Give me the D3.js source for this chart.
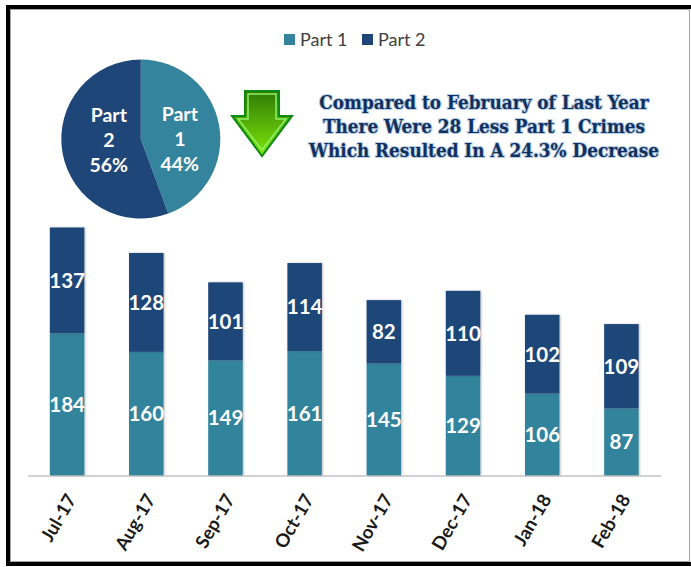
<!DOCTYPE html>
<html>
<head>
<meta charset="utf-8">
<script src="https://d3js.org/d3.v7.min.js"></script>
<style>
  html, body { margin: 0; padding: 0; background: #fff; }
  svg { display: block; font-family: Lato, "Noto Sans", sans-serif; }
</style>
</head>
<body>
<div id="chart"></div>
<script>
// values
const months = ["Jul-17", "Aug-17", "Sep-17", "Oct-17", "Nov-17", "Dec-17", "Jan-18", "Feb-18"];
const part1 = [184, 160, 149, 161, 145, 129, 106, 87];
const part2 = [137, 128, 101, 114, 82, 110, 102, 109];
const seriesNames = ["Part 1", "Part 2"];
const seriesColors = ["#33849c", "#1f4678"];
const headline = [
    "Compared to February of Last Year",
    "There Were 28 Less Part 1 Crimes",
    "Which Resulted In A 24.3% Decrease"
];

const width = 691;
const height = 567;

const svg = d3.select("#chart")
    .append("svg")
        .attr("width", width)
        .attr("height", height);

const defs = svg.append("defs");

// soft shadow under the bars
const shadow = defs.append("filter").attr("id", "barShadow")
    .attr("x", "-20%").attr("width", "140%");
shadow.append("feDropShadow")
    .attr("dx", 1).attr("dy", 0).attr("stdDeviation", 1)
    .attr("flood-color", "#000").attr("flood-opacity", 0.25);

// arrow fill
const arrowFill = defs.append("linearGradient").attr("id", "arrowFill")
    .attr("x1", 0).attr("y1", 0).attr("x2", 0).attr("y2", 1);
arrowFill.append("stop").attr("offset", "0%").attr("stop-color", "#2f7a06");
arrowFill.append("stop").attr("offset", "100%").attr("stop-color", "#7fe80a");

// frame round the picture
svg.append("rect")
    .attr("x", 8).attr("y", 7)
    .attr("width", 700).attr("height", 557)
    .attr("fill", "none")
    .attr("stroke", "#000")
    .attr("stroke-width", 4);
svg.append("rect")
    .attr("x", 10.5).attr("y", 9.5)
    .attr("width", 679).attr("height", 552)
    .attr("fill", "#fff")
    .attr("stroke", "#a6a6a6")
    .attr("stroke-width", 1);

// legend
const legendX = [284, 362];
const legend = svg.append("g").selectAll("g")
    .data(seriesNames)
    .enter()
    .append("g")
        .attr("transform", (d, i) => `translate(${legendX[i]}, 34)`);
legend.append("rect")
    .attr("width", 11).attr("height", 11)
    .attr("fill", (d, i) => seriesColors[i]);
legend.append("text")
    .attr("x", 16).attr("y", 11.5)
    .attr("font-size", 18)
    .attr("fill", "#404040")
    .text(d => d);

// pie of the latest month
const lastIndex = months.length - 1;
const pieValues = [part1[lastIndex], part2[lastIndex]];
const pieTotal = d3.sum(pieValues);
const radius = 79.5;
const pie = d3.pie().sort(null);
const arc = d3.arc().innerRadius(0).outerRadius(radius);
const pieGroup = svg.append("g").attr("transform", "translate(140.8, 139)");
const slices = pieGroup.selectAll("path")
    .data(pie(pieValues))
    .enter();
slices.append("path")
    .attr("d", arc)
    .attr("fill", (d, i) => seriesColors[i]);

const pieLabelPos = [[39, -18], [-32, -17]];
const pieLabels = pieGroup.selectAll("text.slice")
    .data(pie(pieValues))
    .enter()
    .append("text")
        .attr("class", "slice")
        .attr("text-anchor", "middle")
        .attr("fill", "#fff")
        .attr("font-size", 19.5)
        .attr("font-weight", 700)
        .attr("transform", (d, i) => `translate(${pieLabelPos[i][0]}, ${pieLabelPos[i][1]})`);
pieLabels.each(function(d, i) {
    const words = seriesNames[i].split(" ");
    const rows = [words[0], words[1], Math.round(d.value / pieTotal * 100) + "%"];
    d3.select(this).selectAll("tspan")
        .data(rows)
        .enter()
        .append("tspan")
            .attr("x", 0)
            .attr("dy", (r, j) => j === 0 ? 0 : 25)
            .text(r => r);
});

// down arrow
svg.append("path")
    .attr("transform", "translate(262, 123)")
    .attr("d", "M-17,-32 H17 V-7 H30 L0,33 L-30,-7 H-17 Z")
    .attr("fill", "url(#arrowFill)")
    .attr("stroke", "#0d8a12")
    .attr("stroke-width", 2)
    .attr("stroke-linejoin", "miter");
svg.append("path")
    .attr("transform", "translate(262, 123)")
    .attr("d", "M-14,-29 H14 V-4 H24 L0,27 L-24,-4 H-14 Z")
    .attr("fill", "none")
    .attr("stroke", "#8ff06a")
    .attr("stroke-width", 1.5);

// headline
svg.append("g").selectAll("text")
    .data(headline)
    .enter()
    .append("text")
        .attr("x", 484)
        .attr("y", (d, i) => 108.5 + i * 24.2)
        .attr("text-anchor", "middle")
        .attr("font-family", "'DejaVu Serif', serif")
        .attr("font-size", 18.8)
        .attr("font-weight", 700)
        .style("font-stretch", "condensed")
        .attr("fill", "#12305c")
        .attr("stroke", "#b7cfe8")
        .attr("stroke-width", 2)
        .attr("paint-order", "stroke")
        .text(d => d);

// stacked bars
const x = d3.scaleBand()
    .domain(months)
    .range([27.5, 661])
    .paddingInner(0.564)
    .paddingOuter(0.282);
const y = d3.scaleLinear()
    .domain([0, 321])
    .range([475.5, 227.5]);

const stackData = months.map((m, i) => ({ month: m, "Part 1": part1[i], "Part 2": part2[i] }));
const stacked = d3.stack().keys(seriesNames)(stackData);

const layers = svg.append("g").selectAll("g")
    .data(stacked)
    .enter()
    .append("g")
        .attr("fill", (d, i) => seriesColors[i]);

layers.selectAll("rect")
    .data(d => d)
    .enter()
    .append("rect")
        .attr("x", d => x(d.data.month))
        .attr("y", d => y(d[1]))
        .attr("width", x.bandwidth())
        .attr("height", d => y(d[0]) - y(d[1]))
        .attr("filter", "url(#barShadow)");

layers.selectAll("text")
    .data(d => d)
    .enter()
    .append("text")
        .attr("x", d => x(d.data.month) + x.bandwidth() / 2)
        .attr("y", d => (y(d[0]) + y(d[1])) / 2)
        .attr("dy", "0.36em")
        .attr("text-anchor", "middle")
        .attr("fill", "#fff")
        .attr("font-size", 20.5)
        .attr("font-weight", 700)
        .text(d => d[1] - d[0]);

// month axis
const axis = svg.append("g")
    .attr("transform", "translate(0, 475.5)")
    .call(d3.axisBottom(x).tickSize(0).tickSizeOuter(0));
axis.select(".domain")
    .attr("stroke", "#a6a6a6")
    .attr("stroke-width", 1.2);
axis.selectAll("text")
    .attr("font-family", "Lato, 'Noto Sans', sans-serif")
    .attr("font-size", 18.5)
    .attr("font-weight", 700)
    .attr("fill", "#1a1a1a")
    .attr("text-anchor", "end")
    .attr("transform", "translate(4, 20) rotate(-60)")
    .attr("dy", "0.36em")
    .attr("y", 0);
</script>
</body>
</html>
